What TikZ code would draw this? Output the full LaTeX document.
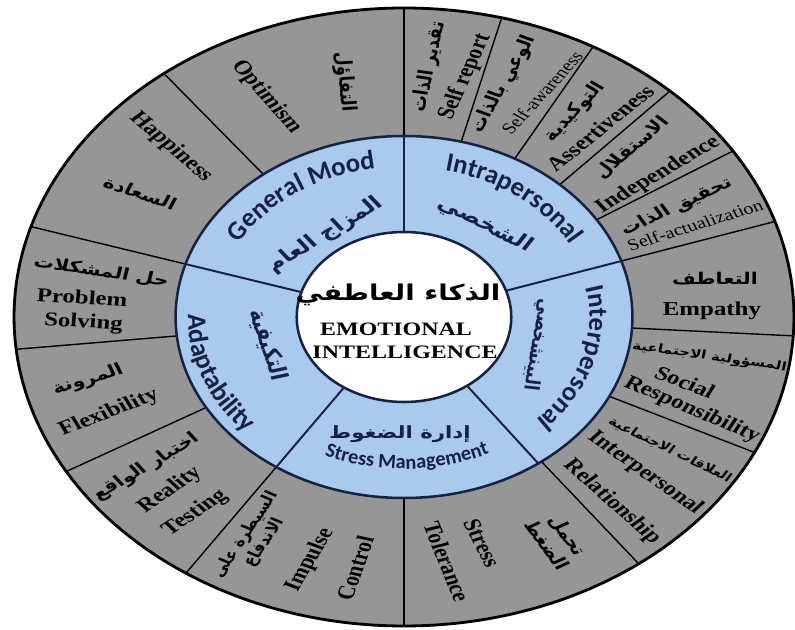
\documentclass[tikz,border=0pt]{standalone}
\usepackage{fontspec}
\setmainfont{Liberation Serif}
\newfontfamily\arabicfont[Script=Arabic]{DejaVu Sans}
\newfontfamily\ringfont{Carlito}
\TeXXeTstate=1
\usetikzlibrary{decorations.text}

\definecolor{wheelgray}{RGB}{150,150,150}
\definecolor{ringblue}{RGB}{170,201,238}
\definecolor{navy}{RGB}{22,34,66}

\newcommand\ringlabel{\color{navy}\ringfont\bfseries\fontsize{19}{20}\selectfont}
\newcommand\ringsmall{\color{navy}\ringfont\bfseries\fontsize{14.5}{16}\selectfont}

\tikzset{
  skill/.style={font=\bfseries\fontsize{14}{15}\selectfont, inner sep=0pt},
  skillthin/.style={font=\fontsize{11.5}{12}\selectfont, inner sep=0pt},
  arab/.style={font=\arabicfont\bfseries\fontsize{11.5}{14}\selectfont, inner sep=0pt, align=center},
  arabsmall/.style={font=\arabicfont\bfseries\fontsize{8.5}{10}\selectfont, inner sep=0pt},
  ringar/.style={font=\arabicfont\bfseries\fontsize{13.5}{15}\selectfont, text=navy, inner sep=0pt},
  core/.style={font=\bfseries\fontsize{13.5}{14}\selectfont, inner sep=0pt}
}

\begin{document}
\begin{tikzpicture}[x=0.025cm, y=0.025cm]
  \useasboundingbox (0,0) rectangle (795,630);
  \coordinate (c) at (404,313);

  \begin{scope}[shift={(c)}, xscale=1.262, transform shape]
    % the three rings
    \fill[wheelgray] (0,0) circle (309);
    \fill[ringblue] (0,0) circle (181);
    \fill[white] (0,0) circle (85);
    \foreach \a in {90,75.5,61,47,32.5,18,-3.5,-26,-53,-90,-124,-150,-174,-197,-232}
      \draw[line width=1pt] (\a:181) -- (\a:309);
    \foreach \a in {90,18,-54,-124,-197}
      \draw[navy, line width=1.4pt] (\a:85) -- (\a:181);
    \draw[navy, line width=1.8pt] (0,0) circle (181) (0,0) circle (85);
    \draw[line width=2pt] (0,0) circle (309);

    % centre
    \node[font=\arabicfont\bfseries\fontsize{15.5}{17}\selectfont, inner sep=0pt] (eiar) at (-4.8,22) {\beginR الذكاء العاطفي\endR};
    \node[core] (emotional) at (-6.3,-12) {EMOTIONAL};
    \node[core] (intelligence) at (0.8,-35) {INTELLIGENCE};

    % composite scales, arabic
    \node[ringar, rotate=37] (moodar) at (-62.6,82) {\beginR المزاج العام\endR};
    \node[ringar, rotate=-32] (intraar) at (64.2,92) {\beginR الشخصي\endR};
    \node[ringar, rotate=-98, font=\arabicfont\bfseries\fontsize{11.5}{13}\selectfont] (interar) at (106,-28) {\beginR البينشخصي\endR};
    \node[ringar, font=\arabicfont\bfseries\fontsize{12}{14}\selectfont] (stressmgar) at (-3.2,-117) {\beginR إدارة الضغوط\endR};
    \node[ringar, rotate=-75] (adaptar) at (-107.8,-28) {\beginR التكيفية\endR};

    % general mood
    \node[skill, rotate=-55] (optimism) at (-109,220) {Optimism};
    \node[arab, rotate=-85] (optimismar) at (-46.8,235) {\beginR التفاؤل\endR};
    \node[skill, rotate=-47] (happiness) at (-184.6,170) {Happiness};
    \node[arab, rotate=-23] (happinessar) at (-209,124) {\beginR السعادة\endR};

    % adaptability
    \node[arab, rotate=-11] (problemar) at (-240,45) {\beginR حل المشكلات\endR};
    \node[skill, rotate=-4] (problem) at (-255,20) {Problem};
    \node[skill, rotate=-4] (solving) at (-254,-6) {Solving};
    \node[arab, rotate=21] (flexibilityar) at (-250.4,-63) {\beginR المرونة\endR};
    \node[skill, rotate=26] (flexibility) at (-233.8,-96) {Flexibility};
    \node[arab, rotate=36.5] (realityar) at (-204,-150) {\beginR اختبار الواقع\endR};
    \node[skill, rotate=41] (reality) at (-185.4,-173) {Reality};
    \node[skill, rotate=40] (testing) at (-165.6,-196) {Testing};

    % stress management
    \node[arab, rotate=62, font=\arabicfont\bfseries\fontsize{10}{12}\selectfont] (impulsear) at (-118,-222) {\beginR السيطرة على\endR\\\beginR الاندفاع\endR};
    \node[skill, rotate=65] (impulse) at (-74.5,-243) {Impulse};
    \node[skill, rotate=74] (control) at (-38.8,-251) {Control};
    \node[skill, rotate=-68] (stress) at (61.8,-226) {Stress};
    \node[skill, rotate=-72] (tolerance) at (34,-245) {Tolerance};
    \node[arab, rotate=-60] (stressar) at (122,-223) {\beginR تحمل\endR\\\beginR الضغط\endR};

    % interpersonal
    \node[arabsmall, rotate=-31.4] (relationar) at (210.8,-133) {\beginR العلاقات الاجتماعية\endR};
    \node[skill, rotate=-41.5] (interpersonal) at (191,-156) {Interpersonal};
    \node[skill, rotate=-48] (relationship) at (164.8,-185) {Relationship};
    \node[arabsmall, rotate=-10] (socialar) at (242,-40) {\beginR المسؤولية الاجتماعية\endR};
    \node[skill, rotate=-26] (social) at (222.7,-65) {Social};
    \node[skill, rotate=-28] (responsibility) at (228.2,-93) {Responsibility};
    \node[arab] (empathyar) at (246.4,38) {\beginR التعاطف\endR};
    \node[skill] (empathy) at (244,6) {Empathy};

    % intrapersonal
    \node[arab, rotate=30] (selfactar) at (216,110) {\beginR تحقيق الذات\endR};
    \node[skillthin, rotate=21.6] (selfact) at (230.6,92) {Self-actualization};
    \node[arab, rotate=46.7] (independencear) at (180.7,169) {\beginR الاستقلال\endR};
    \node[skill, rotate=36.4] (independence) at (201.3,142) {Independence};
    \node[arab, rotate=53] (assertivenessar) at (135.5,205) {\beginR التوكيدية\endR};
    \node[skill, rotate=45.4] (assertiveness) at (155.3,189) {Assertiveness};
    \node[arab, rotate=65.7] (selfawarear) at (79,233) {\beginR الوعي بالذات\endR};
    \node[skillthin, rotate=54] (selfaware) at (109.4,224) {Self-awareness};
    \node[arab, rotate=80] (selfreportar) at (20,250) {\beginR تقدير الذات\endR};
    \node[skill, rotate=70] (selfreport) at (48.3,240) {Self report};
  \end{scope}

  % composite scales, english, along the ring
  \path[shift={(c)}, decorate, decoration={text along path, text align=center,
      text={|\ringlabel|General Mood}}]
    (161:189.3 and 150) arc[start angle=161, end angle=90, x radius=189.3, y radius=150];
  \path[shift={(c)}, decorate, decoration={text along path, text align=center,
      text={|\ringlabel|Intrapersonal}}]
    (88:189.3 and 150) arc[start angle=88, end angle=16, x radius=189.3, y radius=150];
  \path[shift={(c)}, decorate, decoration={text along path, text align=center,
      text={|\ringlabel|Interpersonal}}]
    (20:185.5 and 147) arc[start angle=20, end angle=-52, x radius=185.5, y radius=147];
  \path[shift={(c)}, decorate, decoration={text along path, text align=center,
      text={|\ringsmall|Stress Management}}]
    (-126:191.8 and 152) arc[start angle=-126, end angle=-52, x radius=191.8, y radius=152];
  \path[shift={(c)}, decorate, decoration={text along path, text align=center,
      text={|\ringlabel|Adaptability}}]
    (163:215.8 and 171) arc[start angle=163, end angle=237, x radius=215.8, y radius=171];
\end{tikzpicture}
\end{document}
